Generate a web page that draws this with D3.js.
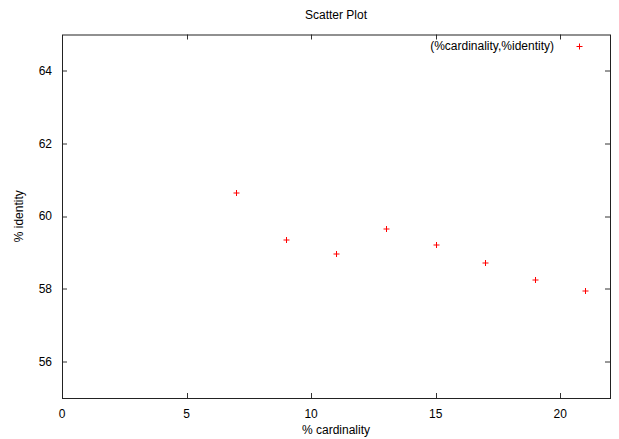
<!DOCTYPE html>
<html>
<head>
<meta charset="utf-8">
<script src="https://cdn.jsdelivr.net/npm/d3@7"></script>
<style>
  body { margin: 0; background: #fff; }
  svg text { font-family: "Liberation Sans", Arial, sans-serif; font-size: 12px; fill: #000; }
</style>
</head>
<body>
<div id="chart"></div>
<script>
// valores
const cardinality = [7, 9, 11, 13, 15, 17, 19, 21];
const identity = [60.66, 59.37, 58.98, 59.65, 59.23, 58.74, 58.27, 57.96];
const xTicks = [0, 5, 10, 15, 20];
const yTicks = [56, 58, 60, 62, 64];
const legendLabel = '(%cardinality,%identity)';

(function () {
  const width = 619, height = 439;
  const margin = { top: 34.5, right: 9, bottom: 41, left: 62 };
  const innerW = width - margin.left - margin.right;
  const innerH = height - margin.top - margin.bottom;

  const svg = d3.select('#chart').append('svg').attr('width', width).attr('height', height);
  const g = svg.append('g').attr('transform', `translate(${margin.left},${margin.top})`);

  const x = d3.scaleLinear().domain([0, 22]).range([0, innerW]);
  const y = d3.scaleLinear().domain([55, 65]).range([innerH, 0]);

  const tick = 5;
  const tickColor = '#333';

  // ticks en los cuatro lados, hacia adentro
  xTicks.forEach(v => {
    const px = Math.round(x(v)) + 0.5;
    if (v !== 0) {
      g.append('line').attr('x1', px).attr('x2', px).attr('y1', innerH).attr('y2', innerH - tick).attr('stroke', tickColor);
      g.append('line').attr('x1', px).attr('x2', px).attr('y1', 0).attr('y2', tick).attr('stroke', tickColor);
    }
    g.append('text').attr('x', x(v)).attr('y', innerH + 20).attr('text-anchor', 'middle').text(v);
  });
  yTicks.forEach(v => {
    const py = Math.round(y(v)) + 0.5;
    g.append('line').attr('x1', 0).attr('x2', tick).attr('y1', py).attr('y2', py).attr('stroke', tickColor);
    g.append('line').attr('x1', innerW).attr('x2', innerW - tick).attr('y1', py).attr('y2', py).attr('stroke', tickColor);
    g.append('text').attr('x', -10).attr('y', y(v)).attr('dy', '0.35em').attr('text-anchor', 'end').text(v);
  });

  g.append('rect').attr('x', 0.5).attr('y', 0.5).attr('width', innerW).attr('height', innerH)
    .attr('fill', 'none').attr('stroke', '#222').attr('stroke-width', 1);

  // marcador "+" estilo gnuplot
  const cross = (cx, cy) => `M${cx - 3},${cy}H${cx + 3}M${cx},${cy - 3}V${cy + 3}`;

  g.selectAll('path.pt').data(cardinality.map((c, i) => ({ c, v: identity[i] }))).join('path')
    .attr('class', 'pt')
    .attr('d', d => cross(Math.round(x(d.c)) + 0.5, Math.round(y(d.v)) + 0.5))
    .attr('stroke', '#ff0000').attr('stroke-width', 1).attr('fill', 'none');

  // leyenda
  g.append('text').attr('x', 554 - margin.left).attr('y', 46 - margin.top).attr('dy', '0.35em')
    .attr('text-anchor', 'end').text(legendLabel);
  g.append('path').attr('d', cross(579.5 - margin.left, 46.5 - margin.top))
    .attr('stroke', '#ff0000').attr('fill', 'none');

  svg.append('text').attr('x', 336).attr('y', 19).attr('text-anchor', 'middle').text('Scatter Plot');
  svg.append('text').attr('x', 336).attr('y', 434).attr('text-anchor', 'middle').text('% cardinality');
  svg.append('text').attr('transform', `translate(23,${margin.top + innerH / 2}) rotate(-90)`)
    .attr('text-anchor', 'middle').text('% identity');
})();
</script>
</body>
</html>
